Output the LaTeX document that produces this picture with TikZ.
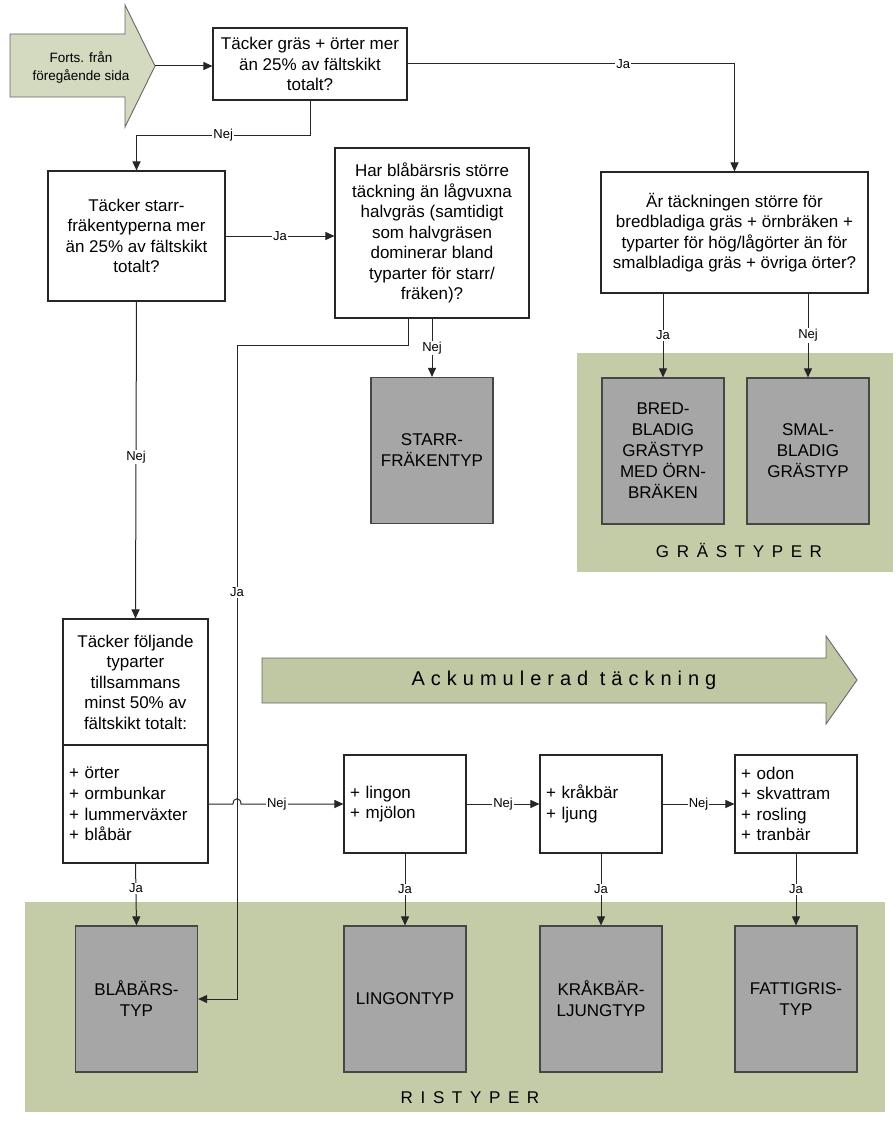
\documentclass[tikz,border=0pt]{standalone}
\usepackage{fontspec}
\setmainfont{Liberation Sans}
\newfontfamily\spacedA[LetterSpace=30]{Liberation Sans}
\newfontfamily\spacedB[LetterSpace=45]{Liberation Sans}
\usetikzlibrary{arrows.meta}
\definecolor{bggreen}{HTML}{C3CCA6}
\definecolor{arrgreen}{HTML}{D3DABF}
\definecolor{arrgreenB}{HTML}{BFC8A2}
\definecolor{boxgray}{HTML}{A6A6A6}
\definecolor{linec}{HTML}{262626}
\begin{document}
\begin{tikzpicture}[x=1pt,y=-1pt,
  qbox/.style={draw=linec, line width=1.1pt, fill=white, align=center, inner sep=2pt, font=\fontsize{17}{20.5}\selectfont},
  lbox/.style={draw=linec, line width=1.1pt, fill=white, align=left, inner xsep=6pt, inner ysep=2pt, font=\fontsize{17}{20.5}\selectfont},
  tbox/.style={draw=linec!85, line width=1.2pt, fill=boxgray, align=center, minimum width=122pt, minimum height=146pt, inner sep=2pt, font=\fontsize{17}{21}\selectfont},
  lbl/.style={fill=white, inner sep=1pt, font=\fontsize{13}{14}\selectfont},
  conn/.style={draw=linec, line width=1pt},
  arr/.style={conn, -{Triangle[length=9pt,width=8pt]}},
]
\useasboundingbox (0,0) rectangle (895,1124);
\fill[white] (0,0) rectangle (895,1124);

% background regions
\fill[bggreen] (577,353) rectangle (893,572);
\fill[bggreen] (25,902) rectangle (885,1112);
\node[font=\fontsize{17}{20}\selectfont\spacedB] (grastyper) at (739,550) {GRÄSTYPER};
\node[font=\fontsize{17}{20}\selectfont\spacedB] (ristyper) at (470,1098) {RISTYPER};

% start arrow
\filldraw[fill=arrgreen, draw=linec!70, line width=0.9pt] (10,34) -- (125,34) -- (125,5) -- (155,66) -- (125,127) -- (125,97) -- (10,97) -- cycle;
\node[align=center, font=\fontsize{13.5}{18}\selectfont] (starttxt) at (81,67) {Forts. från\\föregående sida};
\coordinate (startTip) at (155,66);

% accumulated arrow
\filldraw[fill=arrgreenB, draw=linec!70, line width=0.9pt] (262,658) -- (826,658) -- (826,636) -- (857,680) -- (826,724) -- (826,703) -- (262,703) -- cycle;
\node[font=\fontsize{20}{24}\selectfont\spacedA] (acc) at (564,680) {Ackumulerad täckning};

% question boxes
\node[qbox, minimum width=194pt, minimum height=72pt] (q1) at (310,64) {Täcker gräs + örter mer\\än 25\% av fältskikt\\totalt?};
\node[qbox, minimum width=177pt, minimum height=130pt] (q2) at (136.5,236) {Täcker starr-\\fräkentyperna mer\\än 25\% av fältskikt\\totalt?};
\node[qbox, minimum width=194pt, minimum height=170pt] (q3) at (432,233) {Har blåbärsris större\\täckning än lågvuxna\\halvgräs (samtidigt\\som halvgräsen\\dominerar bland\\typarter för starr/\\fräken)?};
\node[qbox, minimum width=267pt, minimum height=121pt] (q4) at (734.5,232.5) {Är täckningen större för\\bredbladiga gräs + örnbräken +\\typarter för hög/lågörter än för\\smalbladiga gräs + övriga örter?};
\node[qbox, minimum width=145pt, minimum height=126pt] (q5a) at (135.5,682) {Täcker följande\\typarter\\tillsammans\\minst 50\% av\\fältskikt totalt:};
\node[lbox, text width=133pt, minimum height=118pt] (q5b) at (135.5,804) {+ örter\\+ ormbunkar\\+ lummerväxter\\+ blåbär};

% list boxes
\node[lbox, text width=110pt, minimum height=98pt] (L1) at (405,804) {+ lingon\\+ mjölon};
\node[lbox, text width=110pt, minimum height=98pt] (L2) at (601,804) {+ kråkbär\\+ ljung};
\node[lbox, text width=110pt, minimum height=98pt] (L3) at (796,804) {+ odon\\+ skvattram\\+ rosling\\+ tranbär};

% type boxes
\node[tbox] (starr) at (432,450.5) {STARR-\\FRÄKENTYP};
\node[tbox] (bred) at (663,451) {BRED-\\BLADIG\\GRÄSTYP\\MED ÖRN-\\BRÄKEN};
\node[tbox] (smal) at (808,451) {SMAL-\\BLADIG\\GRÄSTYP};
\node[tbox] (B1) at (136.5,999) {BLÅBÄRS-\\TYP};
\node[tbox] (B2) at (405,999) {LINGONTYP};
\node[tbox] (B3) at (601,999) {KRÅKBÄR-\\LJUNGTYP};
\node[tbox] (B4) at (796,999) {FATTIGRIS-\\TYP};

% connectors
\draw[arr] (startTip) -- (startTip -| q1.west);
\draw[arr] (q1.east) -| node[lbl, pos=0.33]{Ja} (q4.north);
\coordinate (nj1) at (310,135);
\draw[arr] (q1.south) -- (nj1) -| node[lbl, pos=0.25]{Nej} (q2.north);
\draw[arr] (q2.east) -- node[lbl]{Ja} (q2.east -| q3.west);
\draw[arr] (q2.south) -- node[lbl, pos=0.49]{Nej} (q5a.north);
\draw[arr] (q3.south) -- node[lbl]{Nej} (starr.north);
\coordinate (jA) at (237,345);
\draw[arr] ([xshift=-24pt]q3.south) |- (jA) -- node[lbl, pos=0.378]{Ja} (jA |- B1.east) -- (B1.east);
\draw[arr] (q4.south -| bred.north) -- node[lbl]{Ja} (bred.north);
\draw[arr] (q4.south -| smal.north) -- node[lbl]{Nej} (smal.north);
\coordinate (hop1) at (233,804);
\coordinate (hop2) at (241,804);
\draw[arr] (q5b.east) -- (hop1) .. controls (233,797) and (241,797) .. (hop2) -- node[lbl, pos=0.35]{Nej} (L1.west);
\draw[arr] (L1.east) -- node[lbl]{Nej} (L2.west);
\draw[arr] (L2.east) -- node[lbl]{Nej} (L3.west);
\draw[arr] (q5b.south) -- node[lbl, pos=0.4]{Ja} (B1.north);
\draw[arr] (L1.south) -- node[lbl]{Ja} (B2.north);
\draw[arr] (L2.south) -- node[lbl]{Ja} (B3.north);
\draw[arr] (L3.south) -- node[lbl]{Ja} (B4.north);
\end{tikzpicture}
\end{document}
